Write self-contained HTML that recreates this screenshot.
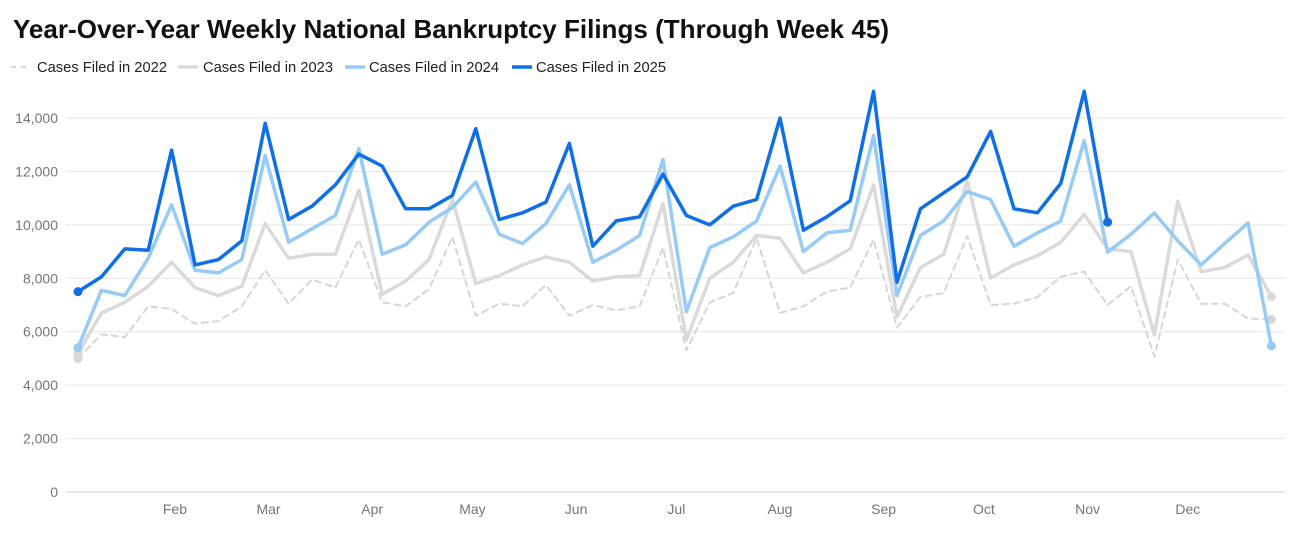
<!DOCTYPE html>
<html><head><meta charset="utf-8"><style>
html,body{margin:0;padding:0;background:#fff;}
svg{display:block;font-family:"Liberation Sans",Arial,sans-serif;}
</style></head><body>
<svg id="chart" width="1292" height="535" viewBox="0 0 1292 535" xmlns="http://www.w3.org/2000/svg">
<text x="13" y="38" font-size="26" font-weight="bold" fill="#111" textLength="876" lengthAdjust="spacingAndGlyphs">Year-Over-Year Weekly National Bankruptcy Filings (Through Week 45)</text>
<g id="legend"></g>
<g id="grid"></g>
<g id="series"></g>
</svg>
<script>
const yTicks=[0,2000,4000,6000,8000,10000,12000,14000];
const monthLabels=["Feb","Mar","Apr","May","Jun","Jul","Aug","Sep","Oct","Nov","Dec"];
const monthDays=[31,59,90,120,151,181,212,243,273,304,334];
const seriesNames=["Cases Filed in 2022","Cases Filed in 2023","Cases Filed in 2024","Cases Filed in 2025"];
const s2022=[5000,5900,5800,6950,6850,6300,6400,6950,8300,7050,7950,7650,9450,7100,6950,7600,9550,6600,7050,6950,7750,6600,7000,6800,6950,9150,5300,7100,7450,9500,6700,6950,7500,7650,9450,6150,7300,7450,9580,7000,7050,7300,8060,8250,7000,7700,5070,8700,7050,7050,6500,6460];
const s2023=[5200,6700,7100,7700,8600,7650,7350,7700,10050,8750,8900,8900,11300,7400,7900,8700,10950,7800,8100,8500,8800,8600,7900,8050,8100,10800,5700,8000,8600,9600,9500,8200,8600,9100,11500,6550,8400,8900,11650,8010,8500,8850,9350,10400,9100,9000,5880,10890,8250,8400,8870,7310];
const s2024=[5400,7550,7350,8750,10750,8300,8200,8700,12600,9350,9850,10350,12850,8900,9250,10100,10650,11600,9650,9300,10050,11500,8600,9050,9600,12450,6750,9150,9550,10150,12200,9000,9700,9800,13350,7350,9600,10150,11250,10950,9200,9700,10150,13150,8980,9650,10440,9400,8500,9300,10070,5470];
const s2025=[7500,8050,9100,9050,12800,8500,8700,9400,13800,10200,10700,11500,12650,12200,10600,10600,11100,13600,10200,10450,10850,13050,9200,10150,10300,11900,10350,10000,10700,10950,14000,9800,10300,10900,15000,7850,10600,11200,11800,13500,10600,10450,11550,15000,10100];

const NS="http://www.w3.org/2000/svg";
const svg=document.getElementById('chart');
const X0=78,DX=23.4,Y0=492,YSCALE=374/14000;
const xw=i=>X0+i*DX;
const xd=d=>X0+(d-2)*DX/7;
const yv=v=>Y0-v*YSCALE;
function mk(tag,attrs,parent){const e=document.createElementNS(NS,tag);for(const k in attrs)e.setAttribute(k,attrs[k]);parent.appendChild(e);return e;}

const grid=document.getElementById('grid');
yTicks.forEach(t=>{
  const l=mk('line',{x1:66,x2:1285,y1:yv(t),y2:yv(t),stroke:t===0?'#d0d0d0':'#e6e6e6','stroke-width':1},grid);
  
  
  const tx=mk('text',{x:58,y:yv(t)+5,'text-anchor':'end','font-size':14,fill:'#757575'},grid);
  tx.textContent=t.toLocaleString('en-US');
  
  
});
monthLabels.forEach((m,i)=>{
  const tx=mk('text',{x:xd(monthDays[i]),y:514,'text-anchor':'middle','font-size':14,fill:'#757575'},grid);
  tx.textContent=m;
  
  
});

const styles=[
 {c:'#d6d6d6',w:2,dash:'6 5',data:s2022},
 {c:'#dadada',w:3.5,dash:'',data:s2023},
 {c:'#96cbf7',w:3.5,dash:'',data:s2024},
 {c:'#0f6fe6',w:3.5,dash:'',data:s2025}
];
const series=document.getElementById('series');
styles.forEach((s,k)=>{
  const pts=s.data.map((v,i)=>xw(i).toFixed(1)+','+yv(v).toFixed(1)).join(' ');
  const p=mk('polyline',{points:pts,fill:'none',stroke:s.c,'stroke-width':s.w,'stroke-linejoin':'round','stroke-linecap':'round'},series);
  if(s.dash)p.setAttribute('stroke-dasharray',s.dash);
  
  
  [0,s.data.length-1].forEach(i=>{
    const c=mk('circle',{cx:xw(i),cy:yv(s.data[i]),r:4.5,fill:s.c},series);
    
    
  });
});

const legend=document.getElementById('legend');
const lx=[[11,37],[178,203],[345,369],[512,536]];
styles.forEach((s,k)=>{
  const g=mk('g',{},legend);
  
  
  const ln=mk('line',{x1:lx[k][0],x2:lx[k][0]+20,y1:67,y2:67,stroke:s.c,'stroke-width':k===0?2:3.5},g);
  if(s.dash)ln.setAttribute('stroke-dasharray','5 5');
  const tx=mk('text',{x:lx[k][1],y:72,'font-size':15,fill:'#222',textLength:130,lengthAdjust:'spacingAndGlyphs'},g);
  tx.textContent=seriesNames[k];
});
</script>
</body></html>
